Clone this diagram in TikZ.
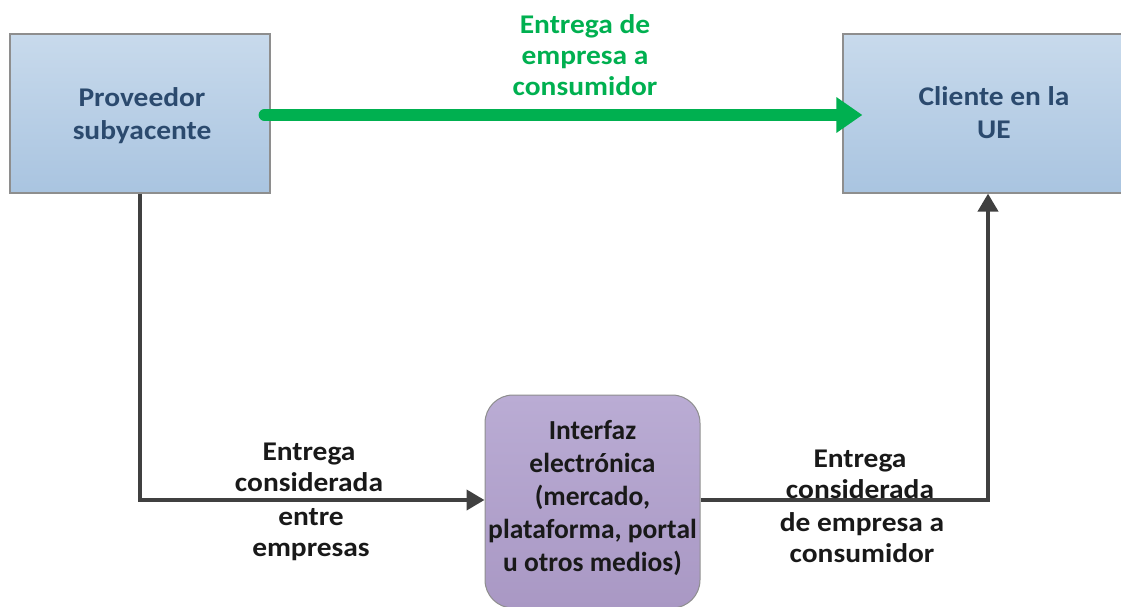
\documentclass[tikz,border=0pt]{standalone}
\usepackage{fontspec}
\setmainfont{Carlito}
\newfontfamily\widefont{Carlito}[FakeStretch=1.09]
\usetikzlibrary{arrows.meta}
\definecolor{boxtop}{HTML}{C8DAEC}
\definecolor{boxbot}{HTML}{A9C4E0}
\definecolor{boxtxt}{HTML}{2B4A6E}
\definecolor{purtop}{HTML}{BAACD4}
\definecolor{purbot}{HTML}{A998C4}
\definecolor{grn}{HTML}{00B050}
\definecolor{conn}{HTML}{404040}
\definecolor{bord}{HTML}{8E8E8E}
\tikzset{
  bluebox/.style={draw=bord, line width=1.2pt, top color=boxtop, bottom color=boxbot,
    minimum width=260pt, minimum height=159pt},
  boxtext/.style={align=center, text=boxtxt, font=\widefont\fontsize{27}{33}\selectfont\bfseries},
  purbox/.style={draw=bord, line width=1pt, top color=purtop, bottom color=purbot,
    rounded corners=28pt, minimum width=215pt, minimum height=213pt},
  midtxt/.style={align=center, font=\fontsize{27.5}{32.8}\selectfont\bfseries, text=black!90},
  lbl/.style={align=center, font=\widefont\fontsize{27}{31}\selectfont\bfseries, text=black!90},
  conn/.style={draw=conn, line width=4pt, -{Triangle[length=18pt,width=20pt]}},
  bigarrow/.style={draw=grn, line width=12pt, line cap=round, -{Triangle[length=26pt,width=34pt]}}
}
\begin{document}
\begin{tikzpicture}[x=1pt,y=-1pt]
\useasboundingbox (0,0) rectangle (1121,607);
\begin{scope}
\clip (0,0) rectangle (1121,607);
\node[bluebox] (prov) at (140,113.5) {};
\node[boxtext] (provt) at (142,116) {Proveedor\\subyacente};
\node[bluebox, minimum width=290pt] (cli) at (988,113.5) {};
\node[boxtext] (clit) at (994,113) {Cliente en la\\UE};
\node[purbox] (mid) at (592.5,501.5) {};
\node[midtxt] (midt) at (592.5,498) {Interfaz\\electrónica\\(mercado,\\plataforma, portal\\u otros medios)};
\end{scope}
\draw[bigarrow, shorten <=-6pt, shorten >=-20pt] (prov.east |- 0,115) coordinate (g1) -- (cli.west |- 0,115) coordinate (g2);
\node[lbl, text=grn] (gl) at (585,55) {Entrega de\\empresa a\\consumidor};
\draw[conn] (prov.south) |- (mid.west |- 0,500) coordinate (mw);
\draw[conn] (mid.east |- 0,500) coordinate (me) -| (cli.south);
\node[lbl] (l1) at (309,467) {Entrega\\considerada};
\node[lbl] (l2) at (311,535) {entre\\empresas};
\node[lbl] (r1) at (860,474) {Entrega\\considerada};
\node[lbl] (r2) at (862,538) {de empresa a\\consumidor};
\end{tikzpicture}
\end{document}
